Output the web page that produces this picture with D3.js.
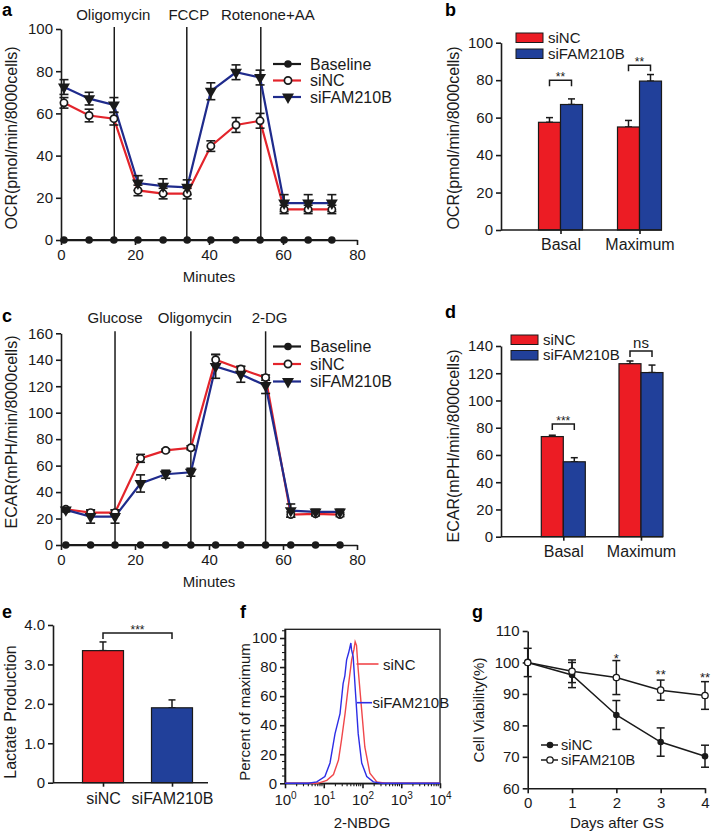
<!DOCTYPE html>
<html><head><meta charset="utf-8">
<script src="https://cdn.jsdelivr.net/npm/d3@7"></script>
<style>body{margin:0;background:#fff}svg{display:block}</style>
</head><body><svg id="c" width="712" height="834"></svg>
<script>
// ---------------- DATA ----------------
// Panel a: OCR time course
const ocrTimes = [0.8, 7.6, 14.3, 20.8, 27.6, 34.1, 40.5, 47.3, 53.8, 60.3, 66.8, 73.2];
const ocrBaseline = [0, 0, 0, 0, 0, 0, 0, 0, 0, 0, 0, 0];
const ocrSiNC = [65, 59, 57.5, 23.5, 22, 22, 44.5, 54.5, 56.5, 14.5, 14.5, 14.5];
const ocrSiNCErr = [2.5, 3, 3, 2.5, 2.5, 2.5, 2.5, 3.5, 3.5, 2, 2, 2];
const ocrSiFAM = [72.5, 67, 64, 27, 25.5, 25, 70.5, 79.5, 77, 17.5, 17.5, 17.5];
const ocrSiFAMErr = [3.5, 3, 3.5, 3.5, 3.5, 3.5, 4, 3.5, 3.5, 4, 4, 4];
const ocrInjections = [14.4, 34, 54];
const ocrInjectionLabels = ["Oligomycin", "FCCP", "Rotenone+AA"];
const timeTicks = [0, 20, 40, 60, 80];
const ocrTicks = [0, 20, 40, 60, 80, 100];

// Panel b: OCR bars
const barCats = ["Basal", "Maximum"];
const ocrBarSiNC = [57.5, 55];
const ocrBarSiNCErr = [2.5, 3.5];
const ocrBarSiFAM = [67, 79.5];
const ocrBarSiFAMErr = [3, 3.5];
const ocrBarSig = ["**", "**"];
const ocrBarSigLevel = [80, 88];

// Panel c: ECAR time course
const ecarTimes = [1.3, 8, 14.6, 21.5, 28.3, 35.1, 41.8, 48.6, 55.3, 62.1, 68.8, 75.4];
const ecarBaseline = [0, 0, 0, 0, 0, 0, 0, 0, 0, 0, 0, 0];
const ecarSiNC = [27, 24.5, 24.5, 65.5, 71.5, 73.5, 140, 133, 126.5, 23, 23.5, 23];
const ecarSiNCErr = [1, 2, 2, 3, 1, 1.5, 4, 2, 2, 2, 1.5, 1.5];
const ecarSiFAM = [26.5, 21.5, 21.5, 46.5, 53.5, 55, 135, 129, 120.5, 26, 25, 25];
const ecarSiFAMErr = [1.5, 5, 5, 6.5, 3, 3, 9, 6, 6, 5, 2, 2];
const ecarInjections = [14.6, 35.1, 55.3];
const ecarInjectionLabels = ["Glucose", "Oligomycin", "2-DG"];
const ecarTicks = [0, 20, 40, 60, 80, 100, 120, 140, 160];

// Panel d: ECAR bars
const ecarBarSiNC = [73.5, 127];
const ecarBarSiNCErr = [1, 2];
const ecarBarSiFAM = [55, 120.5];
const ecarBarSiFAMErr = [3, 5.5];
const ecarBarSig = ["***", "ns"];
const ecarBarSigLevel = [82.7, 136.3];
const ecarBarTicks = [0, 20, 40, 60, 80, 100, 120, 140];

// Panel e: lactate
const lacCats = ["siNC", "siFAM210B"];
const lacVals = [3.35, 1.9];
const lacErr = [0.22, 0.2];
const lacSig = "***";
const lacSigLevel = 3.8;
const lacTicks = [0, 1, 2, 3, 4];

// Panel f: 2-NBDG histograms (intensity, percent of maximum)
const nbdgSiNCX = [1, 7, 12, 17.8, 24, 28.8, 35.5, 42.7, 52.5, 60, 64.6, 70, 77.6, 95.5, 114.8, 155, 234, 398, 10000];
const nbdgSiNCY = [0, 0, 2, 6, 16, 30, 48, 66, 85, 92, 97.5, 95, 78, 50, 25, 7, 1, 0, 0];
const nbdgSiFAMX = [1, 4, 6.6, 10.7, 14.5, 19.5, 26.3, 31.6, 35, 38.9, 44, 50.1, 52, 57.5, 66.1, 77.6, 95.5, 128.8, 190.5, 316, 10000];
const nbdgSiFAMY = [0, 0, 1, 4.6, 14, 34, 48, 68.6, 74, 85, 90, 96.6, 92, 87, 62, 34, 14, 4.6, 1, 0, 0];
const nbdgXTicks = [1, 10, 100, 1000, 10000];
const nbdgYTicks = [0, 20, 40, 60, 80, 100];

// Panel g: cell viability
const days = [0, 1, 2, 3, 4];
const viaSiNC = [100, 96, 83.3, 74.7, 70.2];
const viaSiNCErr = [4.5, 4, 4.6, 4.5, 3.5];
const viaSiFAM = [100, 97.2, 95.2, 91.2, 89.5];
const viaSiFAMErr = [0, 3.6, 5.4, 3.2, 4.4];
const viaSig = ["", "", "*", "**", "**"];
const viaSigLevel = [0, 0, 101.5, 96.3, 95.5];
const viaTicks = [60, 70, 80, 90, 100, 110];

// ---------------- DRAWING ----------------
const FONT = "'Liberation Sans', Arial, Helvetica, sans-serif";
const INK = "#1a1a1a";
const RED = "#e3242b", BLUE = "#1f2b8c";
const BAR_RED = "#ec1c24", BAR_BLUE = "#21409a";
const svg = d3.select("#c").attr("font-family", FONT);

function styleAxis(g, fs = 15) {
  g.selectAll(".domain").attr("stroke", INK).attr("stroke-width", 1.6);
  g.selectAll(".tick line").attr("stroke", INK).attr("stroke-width", 1.6);
  g.selectAll(".tick text").attr("fill", INK).attr("font-size", fs).attr("font-family", FONT);
}
function txt(g, x, y, s, fs, anchor = "start", extra = {}) {
  const t = g.append("text").attr("x", x).attr("y", y).attr("font-size", fs)
    .attr("fill", INK).attr("text-anchor", anchor).text(s);
  for (const k in extra) t.attr(k, extra[k]);
  return t;
}
function ylabel(g, cx, cy, s, fs = 16) {
  g.append("text").attr("transform", `translate(${cx},${cy}) rotate(-90)`)
    .attr("text-anchor", "middle").attr("dy", "0.35em").attr("font-size", fs)
    .attr("fill", INK).text(s);
}
function letter(s, x, y) {
  svg.append("text").attr("x", x).attr("y", y).attr("font-size", 18)
    .attr("font-weight", "bold").attr("fill", "#000").text(s);
}
function marker(g, type, cx, cy) {
  if (type === "filled") g.append("circle").attr("cx", cx).attr("cy", cy).attr("r", 3.8).attr("fill", INK);
  else if (type === "open") g.append("circle").attr("cx", cx).attr("cy", cy).attr("r", 3.6)
    .attr("fill", "#fff").attr("stroke", INK).attr("stroke-width", 1.7);
  else if (type === "tri") g.append("path").attr("d", d3.symbol(d3.symbolTriangle, 62)())
    .attr("transform", `translate(${cx},${cy}) rotate(180)`).attr("fill", INK);
}
function errBar(g, x, y1, y2, cap, w = 1.6) {
  g.append("line").attr("x1", x).attr("x2", x).attr("y1", y1).attr("y2", y2).attr("stroke", INK).attr("stroke-width", w);
  [y1, y2].forEach(yy => g.append("line").attr("x1", x - cap / 2).attr("x2", x + cap / 2)
    .attr("y1", yy).attr("y2", yy).attr("stroke", INK).attr("stroke-width", w));
}
function bracket(g, xa, xb, yy, label, fs = 12) {
  g.append("path").attr("d", `M${xa},${yy + 6}V${yy}H${xb}V${yy + 6}`)
    .attr("fill", "none").attr("stroke", INK).attr("stroke-width", 1.5);
  txt(g, (xa + xb) / 2, label === "ns" ? yy - 3 : yy + 1, label, label === "ns" ? 15 : fs, "middle");
}

// ---------- time-course panels (a, c) ----------
function timecourse(p) {
  const g = svg.append("g");
  const x = d3.scaleLinear().domain([0, 80]).range([p.x0, p.x1]);
  const y = d3.scaleLinear().domain([0, p.yMax]).range([p.yBottom, p.yTop]);
  g.append("g").attr("transform", `translate(0,${p.yBottom})`)
    .call(d3.axisBottom(x).tickValues(timeTicks).tickSize(5).tickSizeOuter(0).tickPadding(4)).call(styleAxis);
  g.append("g").attr("transform", `translate(${p.x0},0)`)
    .call(d3.axisLeft(y).tickValues(p.yTicks).tickSize(5).tickSizeOuter(0).tickPadding(3)).call(styleAxis);
  txt(g, (p.x0 + p.x1) / 2 - 0, p.yBottom + 42, "Minutes", 15, "middle");
  ylabel(g, 11, p.yLabelY, p.yLabel);
  p.injections.forEach((t, i) => {
    g.append("line").attr("x1", x(t)).attr("x2", x(t)).attr("y1", y(p.yMax) - 2).attr("y2", p.yBottom)
      .attr("stroke", INK).attr("stroke-width", 1.5);
    txt(g, x(t) + p.labelDx[i], p.labelY, p.injLabels[i], 15, "middle");
  });
  // baseline
  const line = d3.line().x((d, i) => x(p.times[i])).y(d => y(d));
  g.append("path").attr("d", line(p.baseline)).attr("fill", "none").attr("stroke", INK).attr("stroke-width", 2);
  p.baseline.forEach((v, i) => marker(g, "filled", x(p.times[i]), y(v)));
  const series = [
    { v: p.nc, e: p.ncErr, c: RED, m: "open" },
    { v: p.fam, e: p.famErr, c: BLUE, m: "tri" }
  ];
  series.forEach(s => g.append("path").attr("d", line(s.v)).attr("fill", "none")
    .attr("stroke", s.c).attr("stroke-width", 2.2));
  series.forEach(s => s.v.forEach((v, i) => errBar(g, x(p.times[i]), y(v - s.e[i]), y(v + s.e[i]), 9)));
  series.forEach(s => s.v.forEach((v, i) => marker(g, s.m, x(p.times[i]), y(v))));
  // legend
  const items = [["Baseline", INK, "filled"], ["siNC", RED, "open"], ["siFAM210B", BLUE, "tri"]];
  items.forEach((it, i) => {
    const yy = p.legY + i * p.legStep;
    g.append("line").attr("x1", 273).attr("x2", 301).attr("y1", yy).attr("y2", yy)
      .attr("stroke", it[1]).attr("stroke-width", 2.2);
    marker(g, it[2], 288, yy);
    txt(g, 310, yy + 5.5, it[0], 16);
  });
}

timecourse({
  x0: 61, x1: 357, yTop: 29, yBottom: 240, yMax: 100, yTicks: ocrTicks,
  times: ocrTimes, baseline: ocrBaseline, nc: ocrSiNC, ncErr: ocrSiNCErr, fam: ocrSiFAM, famErr: ocrSiFAMErr,
  injections: ocrInjections, injLabels: ocrInjectionLabels, labelDx: [-1, 2, 7], labelY: 20,
  yLabel: "OCR(pmol/min/8000cells)", yLabelY: 138, legY: 64, legStep: 16.5
});
timecourse({
  x0: 61, x1: 357, yTop: 333.3, yBottom: 545, yMax: 160, yTicks: ecarTicks,
  times: ecarTimes, baseline: ecarBaseline, nc: ecarSiNC, ncErr: ecarSiNCErr, fam: ecarSiFAM, famErr: ecarSiFAMErr,
  injections: ecarInjections, injLabels: ecarInjectionLabels, labelDx: [0, 4, 4], labelY: 323,
  yLabel: "ECAR(mPH/min/8000cells)", yLabelY: 432, legY: 346.5, legStep: 17.5
});

// ---------- grouped bar panels (b, d) ----------
function groupedBars(p) {
  const g = svg.append("g");
  const y = d3.scaleLinear().domain([0, p.yMax]).range([p.yBottom, p.yTop]);
  const x = d3.scalePoint().domain(barCats).range([p.cx0, p.cx1]);
  g.append("g").attr("transform", `translate(${p.x0},0)`)
    .call(d3.axisLeft(y).tickValues(p.yTicks).tickSize(5).tickSizeOuter(0).tickPadding(3)).call(g2 => styleAxis(g2, 15));
  const bw = 22;
  const series = [
    { v: p.nc, e: p.ncErr, c: BAR_RED, off: -bw },
    { v: p.fam, e: p.famErr, c: BAR_BLUE, off: 0 }
  ];
  series.forEach(s => s.v.forEach((v, i) => {
    const cx = x(barCats[i]) + s.off;
    errBar(g, cx + bw / 2, y(v), y(v + s.e[i]), 7, 1.5);
    g.append("rect").attr("x", cx).attr("y", y(v)).attr("width", bw).attr("height", p.yBottom - y(v))
      .attr("fill", s.c).attr("stroke", INK).attr("stroke-width", 1.2);
  }));
  const xa = g.append("g").attr("transform", `translate(0,${p.yBottom})`)
    .call(d3.axisBottom(x).tickSize(4).tickPadding(5)).call(g2 => styleAxis(g2, 16));
  xa.select(".domain").remove();
  g.append("line").attr("x1", p.x0).attr("x2", p.x1).attr("y1", p.yBottom).attr("y2", p.yBottom)
    .attr("stroke", INK).attr("stroke-width", 1.6);
  barCats.forEach((c, i) => bracket(g, x(c) - bw / 2, x(c) + bw / 2, y(p.sigLevel[i]), p.sig[i]));
  ylabel(g, 453, p.yLabelY, p.yLabel);
  [["siNC", BAR_RED], ["siFAM210B", BAR_BLUE]].forEach((it, i) => {
    const yy = p.legY + i * p.legStep;
    g.append("rect").attr("x", p.legX).attr("y", yy).attr("width", 27).attr("height", 9.5)
      .attr("fill", it[1]).attr("stroke", INK).attr("stroke-width", 1);
    txt(g, p.legX + 32, yy + 9.5, it[0], 15);
  });
}
groupedBars({
  x0: 501, x1: 662, cx0: 560.5, cx1: 639.5, yTop: 42.7, yBottom: 230, yMax: 100, yTicks: ocrTicks,
  nc: ocrBarSiNC, ncErr: ocrBarSiNCErr, fam: ocrBarSiFAM, famErr: ocrBarSiFAMErr,
  sig: ocrBarSig, sigLevel: ocrBarSigLevel, yLabel: "OCR(pmol/min/8000cells)", yLabelY: 138,
  legX: 516, legY: 33, legStep: 16
});
groupedBars({
  x0: 501, x1: 663, cx0: 563.3, cx1: 641, yTop: 346, yBottom: 536.7, yMax: 140, yTicks: ecarBarTicks,
  nc: ecarBarSiNC, ncErr: ecarBarSiNCErr, fam: ecarBarSiFAM, famErr: ecarBarSiFAMErr,
  sig: ecarBarSig, sigLevel: ecarBarSigLevel, yLabel: "ECAR(mPH/min/8000cells)", yLabelY: 446,
  legX: 511, legY: 335, legStep: 15.5
});

// ---------- panel e ----------
(function () {
  const g = svg.append("g");
  const y = d3.scaleLinear().domain([0, 4]).range([782.7, 625]);
  const x = d3.scalePoint().domain(lacCats).range([103, 172]);
  g.append("g").attr("transform", "translate(53,0)")
    .call(d3.axisLeft(y).tickValues(lacTicks).tickFormat(d => d === 0 ? "0" : d.toFixed(1))
      .tickSize(5).tickSizeOuter(0).tickPadding(3)).call(g2 => styleAxis(g2, 15));
  const cols = [BAR_RED, BAR_BLUE];
  const bw = 41;
  lacVals.forEach((v, i) => {
    const cx = x(lacCats[i]);
    errBar(g, cx, y(v), y(v + lacErr[i]), 7, 1.5);
    g.append("rect").attr("x", cx - bw / 2).attr("y", y(v)).attr("width", bw).attr("height", 782.7 - y(v))
      .attr("fill", cols[i]).attr("stroke", INK).attr("stroke-width", 1.2);
  });
  const xa = g.append("g").attr("transform", "translate(0,782.7)")
    .call(d3.axisBottom(x).tickSize(4).tickPadding(6)).call(g2 => styleAxis(g2, 16));
  xa.select(".domain").remove();
  g.append("line").attr("x1", 53).attr("x2", 208).attr("y1", 782.7).attr("y2", 782.7)
    .attr("stroke", INK).attr("stroke-width", 1.6);
  bracket(g, x(lacCats[0]), x(lacCats[1]), y(lacSigLevel), lacSig, 12);
  ylabel(g, 10, 712, "Lactate Production");
})();

// ---------- panel f ----------
(function () {
  const g = svg.append("g");
  const x = d3.scaleLog().domain([1, 1e4]).range([285, 440]);
  const y = d3.scaleLinear().domain([0, 106]).range([783.3, 629.3]);
  // minor ticks
  const minorY = d3.range(5, 106, 5).filter(v => v % 20 !== 0);
  minorY.forEach(v => g.append("line").attr("x1", 282).attr("x2", 285).attr("y1", y(v)).attr("y2", y(v))
    .attr("stroke", INK).attr("stroke-width", 1.1));
  const minorX = [];
  [1, 10, 100, 1000].forEach(dec => d3.range(2, 10).forEach(k => minorX.push(dec * k)));
  minorX.forEach(v => g.append("line").attr("x1", x(v)).attr("x2", x(v)).attr("y1", 783.3).attr("y2", 786.3)
    .attr("stroke", INK).attr("stroke-width", 1.1));
  g.append("g").attr("transform", "translate(285,0)")
    .call(d3.axisLeft(y).tickValues(nbdgYTicks).tickSize(5).tickSizeOuter(0).tickPadding(3)).call(g2 => styleAxis(g2, 15));
  const xa = g.append("g").attr("transform", "translate(0,783.3)")
    .call(d3.axisBottom(x).tickValues(nbdgXTicks).tickSize(5).tickSizeOuter(0).tickPadding(6)).call(g2 => styleAxis(g2, 15));
  xa.selectAll(".tick text").each(function (d) {
    const t = d3.select(this);
    t.text("10");
    t.append("tspan").attr("dy", "-0.55em").attr("font-size", 10).text(Math.round(Math.log10(d)));
  });
  g.append("rect").attr("x", 285).attr("y", 629.3).attr("width", 155).attr("height", 154)
    .attr("fill", "none").attr("stroke", INK).attr("stroke-width", 1.3);
  const line = d3.line().x(d => x(d[0])).y(d => y(d[1]));
  const red = nbdgSiNCX.map((v, i) => [v, nbdgSiNCY[i]]);
  const blue = nbdgSiFAMX.map((v, i) => [v, nbdgSiFAMY[i]]);
  g.append("path").attr("d", line(red)).attr("fill", "none").attr("stroke", "#f0474b").attr("stroke-width", 1.4);
  g.append("path").attr("d", line(blue)).attr("fill", "none").attr("stroke", "#2d2ee6").attr("stroke-width", 1.4);
  g.append("line").attr("x1", 356.5).attr("x2", 378.5).attr("y1", 664).attr("y2", 664).attr("stroke", "#f0474b").attr("stroke-width", 1.6);
  txt(g, 383, 669.5, "siNC", 15);
  g.append("line").attr("x1", 357).attr("x2", 372).attr("y1", 702.7).attr("y2", 702.7).attr("stroke", "#2d2ee6").attr("stroke-width", 1.6);
  txt(g, 372.5, 708, "siFAM210B", 15);
  txt(g, 362, 828, "2-NBDG", 15, "middle");
  ylabel(g, 245, 712, "Percent of maximum", 15);
})();

// ---------- panel g ----------
(function () {
  const g = svg.append("g");
  const x = d3.scaleLinear().domain([0, 4]).range([527.7, 705]);
  const y = d3.scaleLinear().domain([60, 110]).range([788.3, 631]);
  g.append("g").attr("transform", "translate(0,788.3)")
    .call(d3.axisBottom(x).tickValues(days).tickFormat(d3.format("d")).tickSize(5).tickSizeOuter(0).tickPadding(4)).call(g2 => styleAxis(g2, 15));
  g.append("g").attr("transform", "translate(527.7,0)")
    .call(d3.axisLeft(y).tickValues(viaTicks).tickSize(5).tickSizeOuter(0).tickPadding(3)).call(g2 => styleAxis(g2, 15));
  const line = d3.line().x((d, i) => x(days[i])).y(d => y(d));
  const series = [
    { v: viaSiNC, e: viaSiNCErr, m: "filled" },
    { v: viaSiFAM, e: viaSiFAMErr, m: "open" }
  ];
  series.forEach(s => g.append("path").attr("d", line(s.v)).attr("fill", "none").attr("stroke", INK).attr("stroke-width", 1.5));
  series.forEach(s => s.v.forEach((v, i) => { if (s.e[i] > 0) errBar(g, x(days[i]), y(v - s.e[i]), y(v + s.e[i]), 8, 1.5); }));
  series.forEach(s => s.v.forEach((v, i) => {
    if (s.m === "filled") g.append("circle").attr("cx", x(days[i])).attr("cy", y(v)).attr("r", 3.3).attr("fill", INK);
    else g.append("circle").attr("cx", x(days[i])).attr("cy", y(v)).attr("r", 3.2).attr("fill", "#fff").attr("stroke", INK).attr("stroke-width", 1.3);
  }));
  viaSig.forEach((s, i) => { if (s) txt(g, x(days[i]), y(viaSigLevel[i]) + 5, s, 13, "middle"); });
  [["siNC", "filled"], ["siFAM210B", "open"]].forEach((it, i) => {
    const yy = 745 + i * 15;
    g.append("line").attr("x1", 541).attr("x2", 558).attr("y1", yy).attr("y2", yy).attr("stroke", INK).attr("stroke-width", 1.5);
    if (it[1] === "filled") g.append("circle").attr("cx", 550).attr("cy", yy).attr("r", 3.3).attr("fill", INK);
    else g.append("circle").attr("cx", 550).attr("cy", yy).attr("r", 3.2).attr("fill", "#fff").attr("stroke", INK).attr("stroke-width", 1.3);
    txt(g, 561, yy + 5, it[0], 14.5);
  });
  txt(g, 617, 828, "Days after GS", 15, "middle");
  ylabel(g, 479, 710, "Cell Viability(%)", 15);
})();

letter("a", 2, 16);
letter("b", 445, 16);
letter("c", 2, 322);
letter("d", 445, 318);
letter("e", 2, 618);
letter("f", 240, 618);
letter("g", 472, 618);
</script></body></html>
